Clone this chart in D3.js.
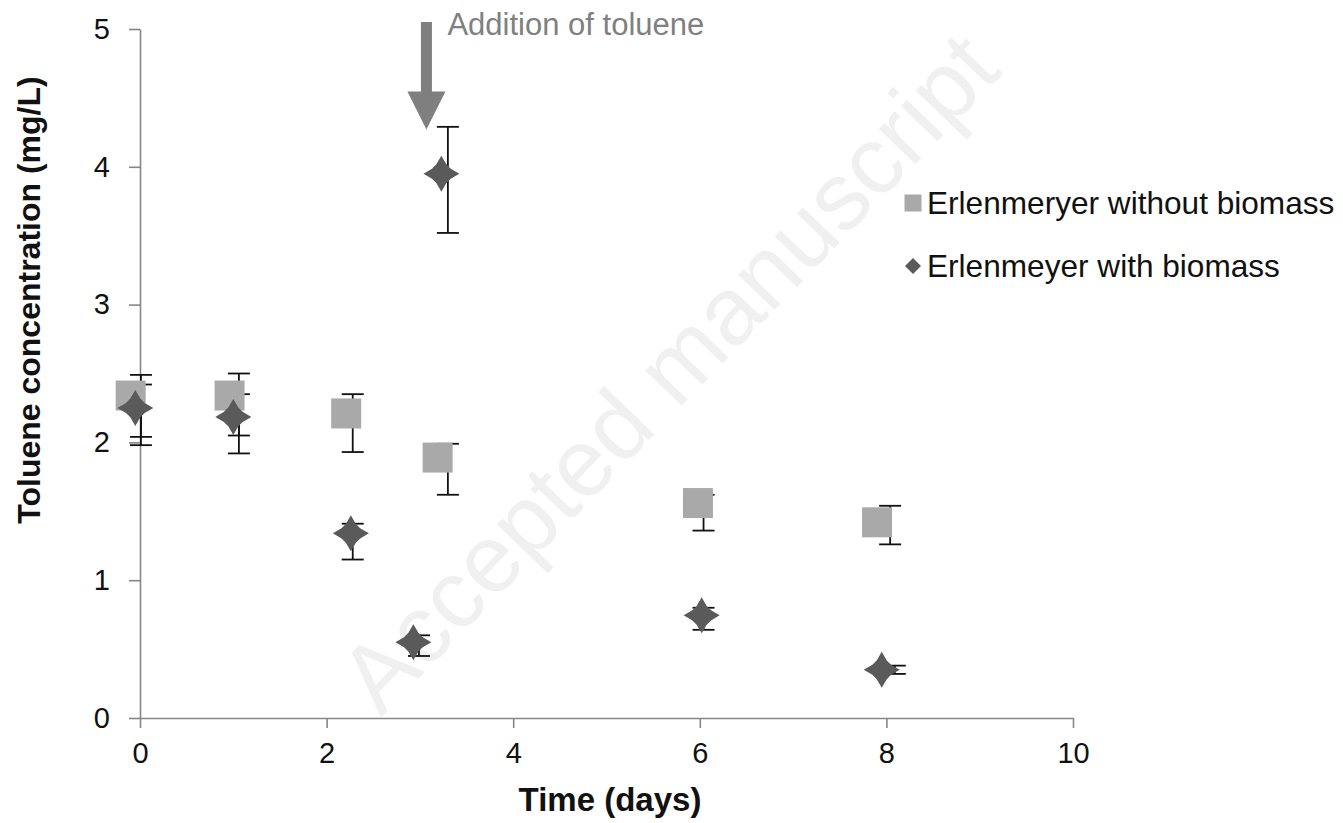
<!DOCTYPE html>
<html>
<head>
<meta charset="utf-8">
<script src="https://cdn.jsdelivr.net/npm/d3@7"></script>
<style>
  html, body { margin: 0; padding: 0; background: #ffffff; }
  svg { display: block; }
  text { font-family: "Liberation Sans", Arial, sans-serif; }
</style>
</head>
<body>
<svg id="chart" width="1343" height="823"></svg>
<script>
// ---- data ----
const seriesNames = ["Erlenmeryer without biomass", "Erlenmeyer with biomass"];

// Erlenmeyer without biomass (squares)
const noBioX    = [-0.10, 0.96, 2.21, 3.19, 5.98, 7.90];
const noBioY    = [2.34, 2.34, 2.21, 1.89, 1.56, 1.42];
const noBioErrX = [0.01, 1.06, 2.28, 3.30, 6.04, 8.04];
const noBioHigh = [2.49, 2.50, 2.35, 1.99, 1.62, 1.54];
const noBioLow  = [1.98, 1.92, 1.93, 1.62, 1.36, 1.26];

// Erlenmeyer with biomass (diamonds)
const bioX    = [-0.05, 1.00, 2.26, 2.93, 3.23, 6.02, 7.95];
const bioY    = [2.25, 2.185, 1.34, 0.55, 3.95, 0.745, 0.35];
const bioErrX = [0.01, 1.06, 2.28, 2.99, 3.30, 6.04, 8.09];
const bioHigh = [2.42, 2.35, 1.41, 0.60, 4.29, 0.80, 0.38];
const bioLow  = [2.04, 2.05, 1.15, 0.45, 3.52, 0.64, 0.32];

const xTicks = [0, 2, 4, 6, 8, 10];
const yTicks = [0, 1, 2, 3, 4, 5];
const xTitle = "Time (days)";
const yTitle = "Toluene concentration (mg/L)";

// annotation arrow (in data units)
const annotText = "Addition of toluene";
const arrowDay = 3.07;
const arrowFrom = 5.05;
const arrowTo = 4.27;

const watermark = "Accepted manuscript";

// ---- layout ----
const svg = d3.select("#chart");
const plotL = 140, plotR = 1073, plotT = 29, plotB = 718;
const x = d3.scaleLinear().domain([0, 10]).range([plotL, plotR]);
const y = d3.scaleLinear().domain([0, 5]).range([plotB, plotT]);

const axisColor = "#868686";
const squareColor = "#a9a9a9";
const diamondColor = "#5a5a5a";

// watermark (behind everything)
svg.append("text")
  .attr("transform", "translate(668,372) rotate(-46)")
  .attr("text-anchor", "middle")
  .attr("dominant-baseline", "central")
  .attr("font-size", 96)
  .attr("fill", "#f0f0f0")
  .text(watermark);

// axes
const fmt = d3.format("d");
const xAxis = d3.axisBottom(x).tickValues(xTicks).tickFormat(fmt).tickSize(10).tickSizeOuter(0).tickPadding(14);
const yAxis = d3.axisLeft(y).tickValues(yTicks).tickFormat(fmt).tickSize(11).tickSizeOuter(0).tickPadding(19);

const gx = svg.append("g").attr("transform", `translate(0,${plotB})`).call(xAxis);
const gy = svg.append("g").attr("transform", `translate(${plotL},0)`).call(yAxis);
[gx, gy].forEach(g => {
  g.select(".domain").attr("stroke", axisColor).attr("stroke-width", 1.6);
  g.selectAll(".tick line").attr("stroke", axisColor).attr("stroke-width", 1.6);
  g.selectAll(".tick text")
    .attr("font-family", "'Liberation Sans', Arial, sans-serif")
    .attr("font-size", 29).attr("fill", "#111");
});

// axis titles
svg.append("text")
  .attr("x", 610).attr("y", 811)
  .attr("text-anchor", "middle")
  .attr("font-weight", "bold").attr("font-size", 33).attr("fill", "#111")
  .text(xTitle);
svg.append("text")
  .attr("transform", "translate(40,300) rotate(-90)")
  .attr("text-anchor", "middle")
  .attr("font-weight", "bold").attr("font-size", 32).attr("fill", "#111")
  .text(yTitle);

// error bars
function drawErrors(ex, hi, lo) {
  const g = svg.append("g").attr("stroke", "#111").attr("stroke-width", 1.8);
  const capHalf = 11;
  ex.forEach((d, i) => {
    const cx = x(d);
    g.append("line").attr("x1", cx).attr("x2", cx).attr("y1", y(hi[i])).attr("y2", y(lo[i]));
    g.append("line").attr("x1", cx - capHalf).attr("x2", cx + capHalf).attr("y1", y(hi[i])).attr("y2", y(hi[i]));
    g.append("line").attr("x1", cx - capHalf).attr("x2", cx + capHalf).attr("y1", y(lo[i])).attr("y2", y(lo[i]));
  });
}
drawErrors(noBioErrX, noBioHigh, noBioLow);
drawErrors(bioErrX, bioHigh, bioLow);

// marker shapes
function spikyDiamond(s) {
  const a = 0.28 * s, b = 0.52 * s;
  const pts = [[0,-s],[a,-b],[b,-a],[s,0],[b,a],[a,b],[0,s],[-a,b],[-b,a],[-s,0],[-b,-a],[-a,-b]];
  return d3.line()(pts) + "Z";
}
const sq = 30;
svg.append("g").selectAll("rect")
  .data(noBioX.map((d, i) => [d, noBioY[i]]))
  .join("rect")
  .attr("x", d => x(d[0]) - sq / 2).attr("y", d => y(d[1]) - sq / 2)
  .attr("width", sq).attr("height", sq)
  .attr("fill", squareColor);

const diamondPath = spikyDiamond(18);
svg.append("g").selectAll("path")
  .data(bioX.map((d, i) => [d, bioY[i]]))
  .join("path")
  .attr("transform", d => `translate(${x(d[0])},${y(d[1])})`)
  .attr("d", diamondPath)
  .attr("fill", diamondColor);

// annotation arrow
const ax = x(arrowDay), ay0 = y(arrowFrom), ay1 = y(arrowTo);
const headH = 38, headHalf = 19, shaftHalf = 5.5;
svg.append("path")
  .attr("d", d3.line()([
    [ax - shaftHalf, ay0], [ax + shaftHalf, ay0], [ax + shaftHalf, ay1 - headH],
    [ax + headHalf, ay1 - headH], [ax, ay1], [ax - headHalf, ay1 - headH],
    [ax - shaftHalf, ay1 - headH]
  ]) + "Z")
  .attr("fill", "#7f7f7f");
svg.append("text")
  .attr("x", ax + 21).attr("y", 35)
  .attr("font-size", 31).attr("fill", "#808080")
  .text(annotText);

// legend
const legend = svg.append("g");
const legX = 913, legRow = [203, 266];
legend.append("rect")
  .attr("x", legX - 8.5).attr("y", legRow[0] - 8.5).attr("width", 17).attr("height", 17)
  .attr("fill", squareColor);
legend.append("path")
  .attr("transform", `translate(${legX},${legRow[1]})`)
  .attr("d", d3.line()([[0,-8],[8,0],[0,8],[-8,0]]) + "Z")
  .attr("fill", diamondColor);
legend.selectAll("text.leg")
  .data(seriesNames)
  .join("text")
  .attr("class", "leg")
  .attr("x", legX + 14).attr("y", (d, i) => legRow[i] + 11)
  .attr("font-size", 31.6).attr("fill", "#111")
  .text(d => d);
</script>
</body>
</html>
